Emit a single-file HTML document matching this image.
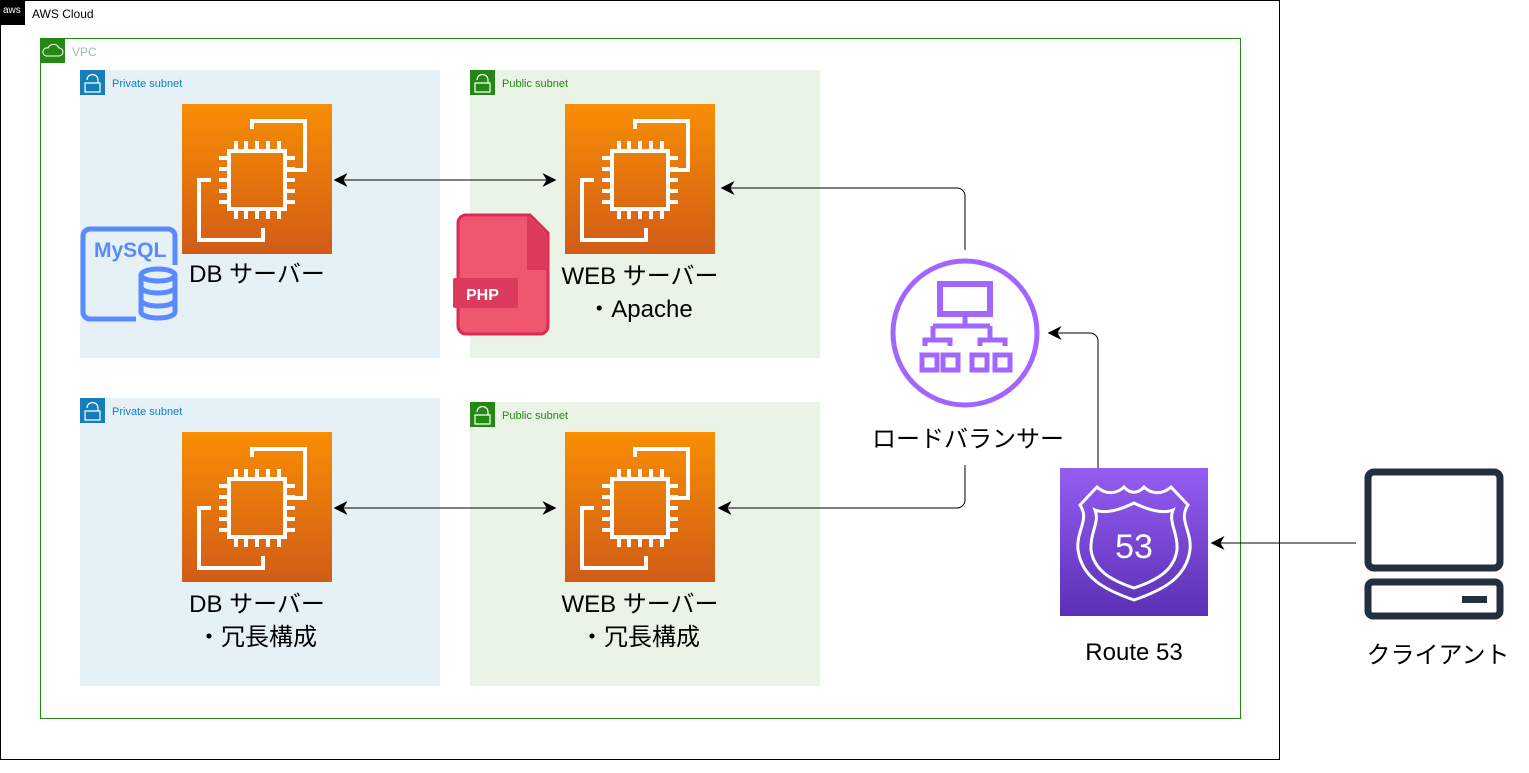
<!DOCTYPE html>
<html><head><meta charset="utf-8"><style>
body{margin:0;width:1529px;height:773px;background:#fff;overflow:hidden;font-family:"Liberation Sans","Noto Sans CJK JP",sans-serif}
svg{position:absolute;left:0;top:0}
</style></head><body>
<svg width="1529" height="773" viewBox="0 0 1529 773" xmlns="http://www.w3.org/2000/svg" font-family="Liberation Sans, Noto Sans CJK JP, sans-serif">
<defs>
<linearGradient id="ec2" x1="0" y1="0" x2="0" y2="1"><stop offset="0" stop-color="#f78e04"/><stop offset="1" stop-color="#d05c17"/></linearGradient>
<linearGradient id="r53" x1="0" y1="0" x2="0" y2="1"><stop offset="0" stop-color="#945df2"/><stop offset="1" stop-color="#5a30b5"/></linearGradient>
<marker id="ar" viewBox="0 0 10 10" refX="9" refY="5" markerWidth="14" markerHeight="14" orient="auto-start-reverse" markerUnits="userSpaceOnUse"><path d="M0,0 L10,5 L0,10 L3,5 z" fill="#000"/></marker>
<g id="chip">
<rect x="0" y="0" width="150" height="150" fill="url(#ec2)"/>
<g fill="none" stroke="#fff" stroke-width="4">
<path d="M70,25 V17 H123 V66 H101"/><path d="M81,124 V136 H17 V76 H29"/>
<rect x="47" y="47" width="56" height="58"/>
<path d="M54,37v10M64,37v10M75,37v10M86,37v10M97,37v10M54,105v10M64,105v10M75,105v10M86,105v10M97,105v10M37,54h10M37,65h10M37,76h10M37,87h10M37,98h10M103,54h10M103,65h10M103,76h10M103,87h10M103,98h10"/>
</g></g>
</defs>
<rect x="0.5" y="0.5" width="1279" height="759" fill="#fff" stroke="#000"/>
<rect x="0" y="0" width="25" height="25" fill="#000"/>
<text x="3" y="13" font-size="10" fill="#fff">aws</text>
<text x="32" y="18" font-size="12" fill="#000">AWS Cloud</text>
<rect x="40.5" y="38.5" width="1200" height="680" fill="none" stroke="#248814"/>
<rect x="40" y="38" width="25" height="25" fill="#248814"/>
<path d="M46,56 h13 a4,4 0 0 0 0,-8 a6,6 0 0 0 -11,0 a4,4 0 0 0 -2,8z" fill="none" stroke="#fff"/>
<text x="72" y="56" font-size="12" fill="#aab7b8">VPC</text>
<g>
<rect x="80" y="70" width="360" height="288" fill="#e6f0f7"/>
<rect x="470" y="70" width="350" height="288" fill="#e9f3e6"/>
<rect x="80" y="398" width="360" height="288" fill="#e6f0f7"/>
<rect x="470" y="402" width="350" height="284" fill="#e9f3e6"/>
<rect x="80" y="70" width="25" height="25" fill="#147eba"/>
<rect x="470" y="70" width="25" height="25" fill="#248814"/>
<rect x="80" y="398" width="25" height="25" fill="#147eba"/>
<rect x="470" y="402" width="25" height="25" fill="#248814"/>
<g fill="none" stroke="#fff" stroke-width="1.2">
<path d="M87,80 a5,5 0 0 1 11,0 v3 M85,83 h15 v9 h-15z"/>
<path d="M477,80 a5,5 0 0 1 11,0 v3 M475,83 h15 v9 h-15z"/>
<path d="M87,408 a5,5 0 0 1 11,0 v3 M85,411 h15 v9 h-15z"/>
<path d="M477,412 a5,5 0 0 1 11,0 v3 M475,415 h15 v9 h-15z"/>
</g>
<text x="112" y="87" font-size="11" fill="#147eba">Private subnet</text>
<text x="502" y="87" font-size="11" fill="#248814">Public subnet</text>
<text x="112" y="415" font-size="11" fill="#147eba">Private subnet</text>
<text x="502" y="419" font-size="11" fill="#248814">Public subnet</text>
</g>
<use href="#chip" x="182" y="104"/>
<use href="#chip" x="565" y="104"/>
<use href="#chip" x="182" y="432"/>
<use href="#chip" x="565" y="432"/>
<g fill="none" stroke="#5a8aff" stroke-width="5">
<path d="M136,319 H90 a7,7 0 0 1 -7,-7 V236 a7,7 0 0 1 7,-7 H168 a7,7 0 0 1 7,7 V265"/>
<ellipse cx="158" cy="275" rx="17" ry="6"/>
<path d="M141,275 V312 a17,6 0 0 0 34,0 V275 M141,287 a17,6 0 0 0 34,0 M141,300 a17,6 0 0 0 34,0"/>
</g>
<text x="94" y="257" font-size="21" font-weight="bold" fill="#5a8aff">MySQL</text>
<path d="M466,215 H530 L548,233 V326 a8,8 0 0 1 -8,8 H466 a8,8 0 0 1 -8,-8 V223 a8,8 0 0 1 8,-8z" fill="#f0566f" stroke="#d92c55" stroke-width="3"/>
<path d="M527,215 L548,236 V270 H527z" fill="#dc3a5d"/>
<rect x="453" y="278" width="65" height="30" rx="2" fill="#dc3a5d"/>
<text x="466" y="300" font-size="16" font-weight="bold" fill="#fff">PHP</text>
<g font-size="24" fill="#000" text-anchor="middle">
<text x="257" y="282">DB サーバー</text>
<text x="640" y="284">WEB サーバー</text>
<text x="640" y="317">・Apache</text>
<text x="257" y="612">DB サーバー</text>
<text x="257" y="645">・冗長構成</text>
<text x="640" y="612">WEB サーバー</text>
<text x="640" y="645">・冗長構成</text>
<text x="968" y="447">ロードバランサー</text>
<text x="1134" y="660">Route 53</text>
<text x="1438" y="663">クライアント</text>
</g>
<g fill="none" stroke="#a166ff" stroke-width="5">
<circle cx="965" cy="333" r="72"/>
<rect x="940" y="284" width="50" height="30" stroke-width="6"/>
<path d="M965,314 V326 M933,326 H990 M933,326 V340 H950 V346 M933,340 H925 V346 M990,326 V340 H1005 V346 M990,340 H980 V346" stroke-width="5"/>
<rect x="922" y="355" width="15" height="15"/><rect x="943" y="355" width="15" height="15"/><rect x="972" y="355" width="15" height="15"/><rect x="995" y="355" width="15" height="15"/>
</g>
<rect x="1060" y="468" width="148" height="148" fill="url(#r53)"/>
<g fill="none" stroke="#fff" stroke-width="3">
<path d="M1134,600 C1105,590 1082,578 1078,550 C1076,530 1090,520 1080,505 L1097,487 C1107,496 1118,493 1124,487 C1130,494 1138,494 1144,487 C1150,493 1161,496 1171,487 L1188,505 C1178,520 1192,530 1190,550 C1186,578 1163,590 1134,600z"/>
<path d="M1134,588 C1110,580 1094,570 1091,550 C1090,532 1100,522 1095,510 C1105,514 1120,510 1134,503 C1148,510 1163,514 1173,510 C1168,522 1178,532 1177,550 C1174,570 1158,580 1134,588z"/>
</g>
<text x="1134" y="558" font-size="34" fill="#fff" text-anchor="middle">53</text>
<g fill="none" stroke="#232f3e" stroke-width="7">
<rect x="1368" y="472" width="132" height="96" rx="6"/>
<rect x="1368" y="582" width="132" height="34" rx="5"/>
</g>
<rect x="1462" y="596" width="25" height="7" fill="#232f3e"/>
<g fill="none" stroke="#000" stroke-width="1">
<path d="M335,180 H555" marker-start="url(#ar)" marker-end="url(#ar)"/>
<path d="M335,508 H555" marker-start="url(#ar)" marker-end="url(#ar)"/>
<path d="M965,250 V196 a8,8 0 0 0 -8,-8 H722" marker-end="url(#ar)"/>
<path d="M965,465 V500 a8,8 0 0 1 -8,8 H719" marker-end="url(#ar)"/>
<path d="M1098,468 V341 a8,8 0 0 0 -8,-8 H1049" marker-end="url(#ar)"/>
<path d="M1356,543 H1212" marker-end="url(#ar)"/>
</g>
</svg>
</body></html>
